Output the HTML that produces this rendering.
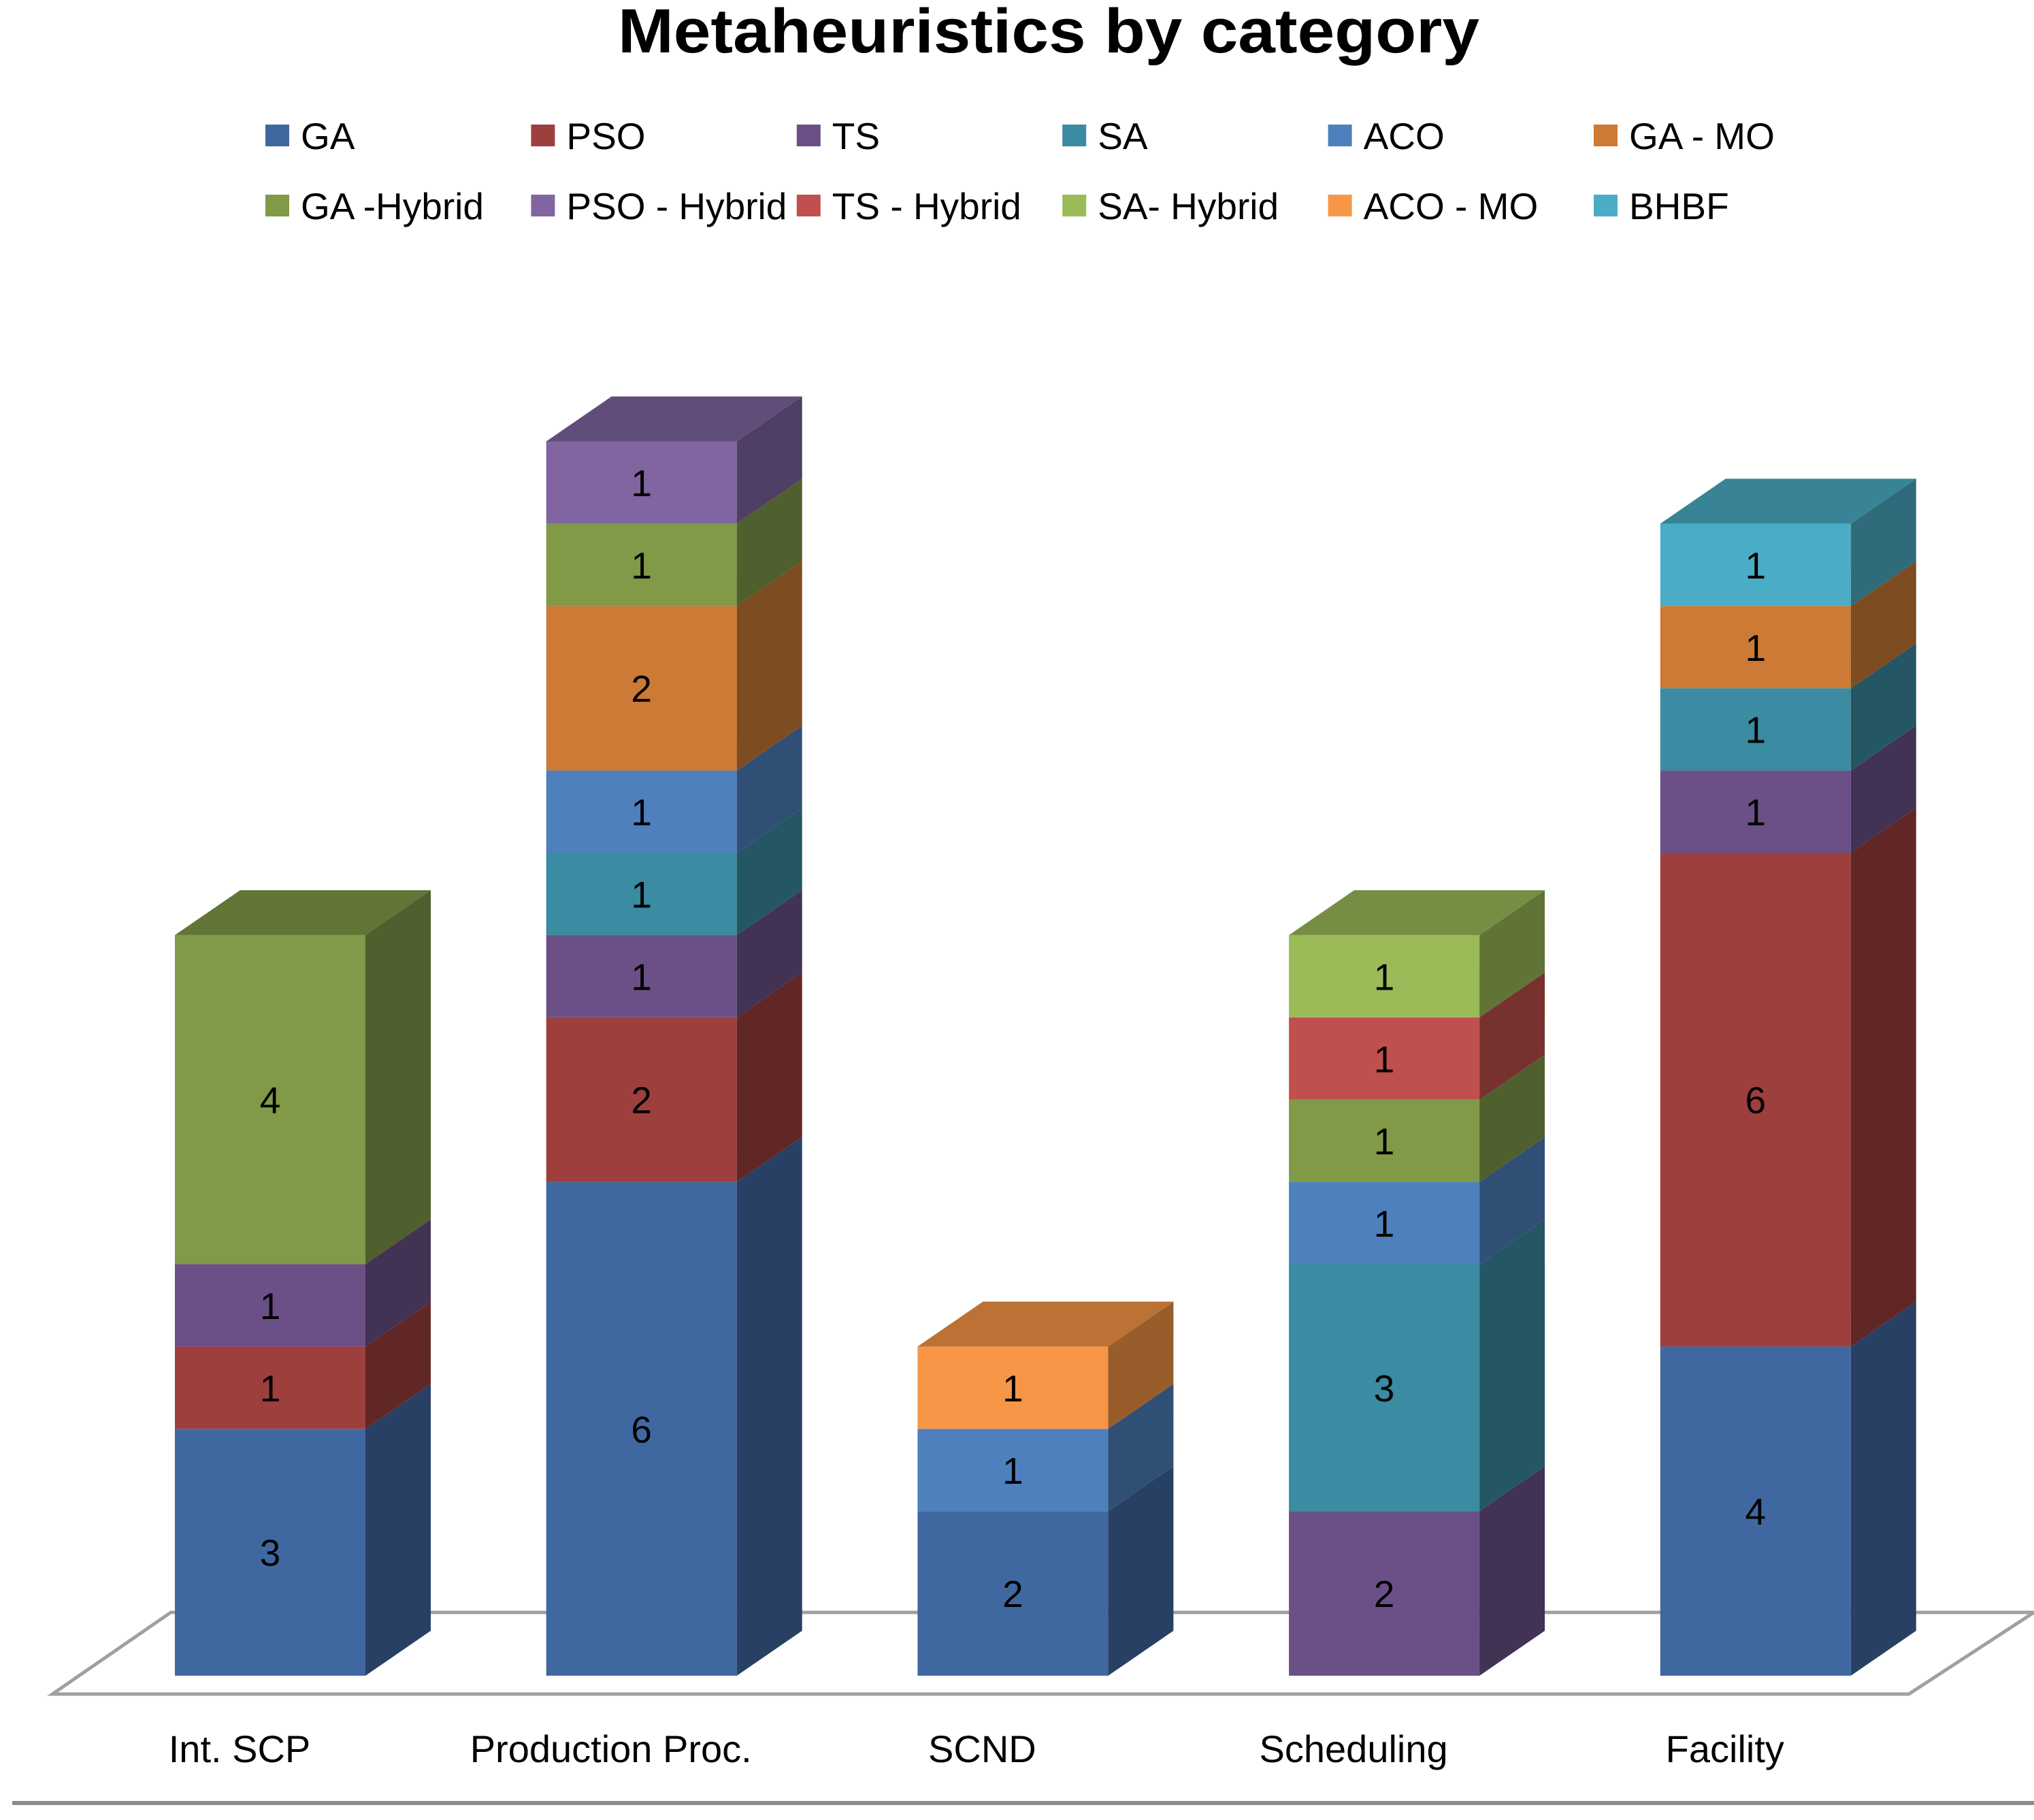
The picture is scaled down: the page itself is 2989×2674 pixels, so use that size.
<!DOCTYPE html>
<html><head><meta charset="utf-8"><style>
html,body{margin:0;padding:0;background:#fff;}
svg{display:block;font-family:"Liberation Sans",sans-serif;}
</style></head><body>
<svg id="chart" width="2989" height="2674" viewBox="0 0 2989 2674" xmlns="http://www.w3.org/2000/svg">
<text x="1541" y="77" text-anchor="middle" font-size="92" font-weight="bold" textLength="1266" lengthAdjust="spacingAndGlyphs">Metaheuristics by category</text>
<g id="legend"></g>
<polygon points="251,2369 2989,2369 2805,2489 77,2489" fill="#fff" stroke="#a0a0a0" stroke-width="5"/>
<g id="bars"></g>
<g id="xlabels"></g>
<line x1="18" y1="2649" x2="2989" y2="2649" stroke="#8c8c8c" stroke-width="6"/>
</svg>
<script>
const categories = ["Int. SCP","Production Proc.","SCND","Scheduling","Facility"];
const seriesNames = ["GA","PSO","TS","SA","ACO","GA - MO","GA -Hybrid","PSO - Hybrid","TS - Hybrid","SA- Hybrid","ACO - MO","BHBF"];
const seriesColors = ["#4068a0","#9c3f3d","#6b5087","#3b8ba2","#4e80bd","#cc7a36","#809a48","#8065a1","#c0504d","#9bbb59","#f79646","#4bacc6"];
// values per series, one entry per category
const GA        = [3,6,2,0,4];
const PSO       = [1,2,0,0,6];
const TS        = [1,1,0,2,1];
const SA        = [0,1,0,3,1];
const ACO       = [0,1,1,1,0];
const GA_MO     = [0,2,0,0,1];
const GA_Hybrid = [4,1,0,1,0];
const PSO_Hybrid= [0,1,0,0,0];
const TS_Hybrid = [0,0,0,1,0];
const SA_Hybrid = [0,0,0,1,0];
const ACO_MO    = [0,0,1,0,0];
const BHBF      = [0,0,0,0,1];
const seriesValues = [GA,PSO,TS,SA,ACO,GA_MO,GA_Hybrid,PSO_Hybrid,TS_Hybrid,SA_Hybrid,ACO_MO,BHBF];

const NS="http://www.w3.org/2000/svg";
const y0=2462, unit=120.9, barW=280, x0=257, step=545.7, dx=96, dy=66;
const yScale=v=>y0-v*unit;
const xScale=i=>x0+i*step;
function shade(hex,f){const n=parseInt(hex.slice(1),16);const r=Math.round(((n>>16)&255)*f),g=Math.round(((n>>8)&255)*f),b=Math.round((n&255)*f);return `rgb(${r},${g},${b})`;}
function mk(tag,attrs,parent){const e=document.createElementNS(NS,tag);for(const k in attrs)e.setAttribute(k,attrs[k]);parent.appendChild(e);return e;}

// legend
const lg=document.getElementById('legend');
seriesNames.forEach((nm,i)=>{
  const col=i%6,row=Math.floor(i/6);
  const lx=390+col*390.4, ly=row?302:199;
  const r=mk('rect',{x:lx,y:ly-16,width:35,height:32,fill:seriesColors[i]},lg);
  
  
  const t=mk('text',{x:lx+52,y:ly+20,'font-size':55,fill:'#000'},lg);
  t.textContent=nm;
  
  
});

// bars
const bg=document.getElementById('bars');
categories.forEach((c,ci)=>{
  const x=xScale(ci);
  let cum=0, topSeries=-1;
  seriesValues.forEach((vals,si)=>{
    const v=vals[ci]; if(!v) return;
    const yb=yScale(cum), yt=yScale(cum+v);
    const col=seriesColors[si];
    const f=mk('rect',{x:x,y:yt,width:barW,height:yb-yt,fill:col},bg);
    
    
    const s=mk('polygon',{points:`${x+barW},${yb} ${x+barW+dx},${yb-dy} ${x+barW+dx},${yt-dy} ${x+barW},${yt}`,fill:shade(col,0.62)},bg);
    
    
    const t=mk('text',{x:x+barW/2,y:(yt+yb)/2+20,'text-anchor':'middle','font-size':55,fill:'#000'},bg);
    t.textContent=v;
    
    
    cum+=v; topSeries=si;
  });
  const yt=yScale(cum);
  const tp=mk('polygon',{points:`${x},${yt} ${x+dx},${yt-dy} ${x+barW+dx},${yt-dy} ${x+barW},${yt}`,fill:shade(seriesColors[topSeries],0.76)},bg);
  
  
  const l=mk('text',{x:x+barW/2-45,y:2589,'text-anchor':'middle','font-size':56,fill:'#000'},document.getElementById('xlabels'));
  l.textContent=c;
  
  
});
</script>
</body></html>
